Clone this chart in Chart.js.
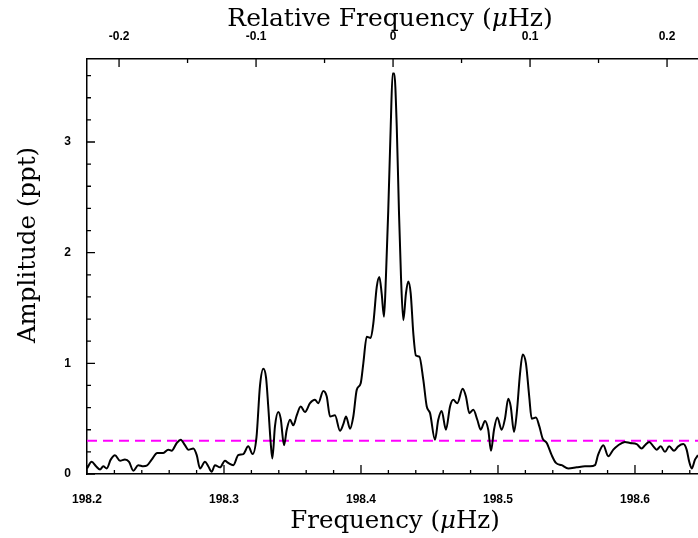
<!DOCTYPE html>
<html>
<head>
<meta charset="utf-8">
<script src="https://cdn.jsdelivr.net/npm/chart.js@4"></script>
<style>
  body { margin: 0; background: #fff; }
  #wrap { width: 698px; height: 538px; }
</style>
</head>
<body>
<div id="wrap"><canvas id="ampSpectrum"></canvas></div>
<script>
// frequency (μHz) and amplitude (ppt) of the spectrum around the peak
var freq = [
  198.2000, 198.2034, 198.2066, 198.2095, 198.2119, 198.2144, 198.2173, 198.2204, 198.2241, 198.2277,
  198.2307, 198.2338, 198.2374, 198.2411, 198.2436, 198.2472, 198.2513, 198.2557, 198.2593, 198.2618,
  198.2655, 198.2684, 198.2715, 198.2739, 198.2776, 198.2801, 198.2825, 198.2861, 198.2885, 198.2910,
  198.2934, 198.2971, 198.3007, 198.3031, 198.3068, 198.3104, 198.3141, 198.3177, 198.3209, 198.3237,
  198.3263, 198.3287, 198.3307, 198.3323, 198.3341, 198.3353, 198.3372, 198.3396, 198.3414, 198.3438,
  198.3458, 198.3482, 198.3506, 198.3531, 198.3560, 198.3591, 198.3628, 198.3664, 198.3688, 198.3725,
  198.3750, 198.3774, 198.3810, 198.3847, 198.3871, 198.3891, 198.3920, 198.3944, 198.3969, 198.3998,
  198.4017, 198.4042, 198.4071, 198.4090, 198.4115, 198.4134, 198.4151, 198.4168, 198.4182, 198.4199,
  198.4217, 198.4231, 198.4243, 198.4261, 198.4277, 198.4292, 198.4309, 198.4328, 198.4345, 198.4363,
  198.4382, 198.4401, 198.4426, 198.4455, 198.4480, 198.4504, 198.4540, 198.4564, 198.4589, 198.4620,
  198.4650, 198.4674, 198.4703, 198.4742, 198.4766, 198.4791, 198.4820, 198.4849, 198.4874, 198.4905,
  198.4929, 198.4949, 198.4971, 198.4995, 198.5027, 198.5051, 198.5075, 198.5093, 198.5117, 198.5137,
  198.5161, 198.5180, 198.5204, 198.5228, 198.5246, 198.5277, 198.5302, 198.5326, 198.5356, 198.5392,
  198.5423, 198.5465, 198.5513, 198.5574, 198.5635, 198.5672, 198.5708, 198.5730, 198.5769, 198.5805,
  198.5842, 198.5878, 198.5927, 198.5964, 198.6012, 198.6049, 198.6073, 198.6104, 198.6134, 198.6158,
  198.6188, 198.6219, 198.6250, 198.6285, 198.6316, 198.6353, 198.6377, 198.6396, 198.6414, 198.6438,
  198.6460
];
var amp = [
  0.05, 0.11, 0.07, 0.04, 0.07, 0.05, 0.13, 0.17, 0.12, 0.13,
  0.11, 0.03, 0.08, 0.07, 0.075, 0.13, 0.19, 0.19, 0.22, 0.21,
  0.28, 0.31, 0.26, 0.22, 0.23, 0.17, 0.05, 0.11, 0.07, 0.02,
  0.08, 0.06, 0.12, 0.10, 0.08, 0.17, 0.18, 0.25, 0.18, 0.33,
  0.80, 0.95, 0.87, 0.61, 0.28, 0.14, 0.43, 0.56, 0.50, 0.26,
  0.40, 0.49, 0.44, 0.53, 0.61, 0.56, 0.64, 0.67, 0.64, 0.75,
  0.70, 0.52, 0.53, 0.39, 0.45, 0.52, 0.41, 0.52, 0.76, 0.82,
  1.00, 1.24, 1.23, 1.36, 1.69, 1.78, 1.63, 1.42, 1.78, 2.38,
  3.14, 3.62, 3.62, 3.14, 2.38, 1.78, 1.39, 1.63, 1.74, 1.63,
  1.27, 1.07, 1.06, 0.85, 0.61, 0.55, 0.31, 0.49, 0.57, 0.40,
  0.61, 0.67, 0.64, 0.77, 0.70, 0.55, 0.58, 0.49, 0.40, 0.48,
  0.40, 0.21, 0.40, 0.51, 0.40, 0.50, 0.68, 0.61, 0.38, 0.55,
  0.91, 1.08, 1.00, 0.70, 0.50, 0.51, 0.43, 0.32, 0.28, 0.17,
  0.10, 0.08, 0.05, 0.06, 0.07, 0.07, 0.08, 0.17, 0.26, 0.16,
  0.22, 0.26, 0.29, 0.28, 0.27, 0.23, 0.26, 0.29, 0.25, 0.22,
  0.25, 0.20, 0.25, 0.21, 0.25, 0.27, 0.22, 0.11, 0.05, 0.13,
  0.17
];
var noiseLevel = 0.3;          // dashed significance line
var centerFreq = 198.4234;     // zero of the relative axis
var freqTicks = [198.2, 198.3, 198.4, 198.5, 198.6];
var relTicks = [-0.2, -0.1, 0, 0.1, 0.2];
var ampTicks = [0, 1, 2, 3];
var xMin = 198.2, xMax = 198.646, yMin = 0, yMax = 3.75;

var tickFont = { family: 'Liberation Sans', size: 12, weight: 'bold' };
var titleFamily = 'DejaVu Serif';

// draws inward ticks (major + minor) and the serif axis titles
var frameTicks = {
  id: 'frameTicks',
  afterDraw: function (chart) {
    var ctx = chart.ctx, a = chart.chartArea;
    var sx = chart.scales.x, sx2 = chart.scales.x2, sy = chart.scales.y;
    ctx.save();
    ctx.strokeStyle = '#000';
    ctx.lineWidth = 1.3;
    ctx.beginPath();
    var i, v, p, len;
    for (i = 0; i <= 23; i++) {
      v = xMin + i * 0.02;
      if (v > xMax) break;
      p = sx.getPixelForValue(v);
      len = (i % 5 === 0) ? 9 : 4;
      ctx.moveTo(p, a.bottom);
      ctx.lineTo(p, a.bottom - len);
    }
    for (i = -4; i <= 4; i++) {
      v = i * 0.05;
      p = sx2.getPixelForValue(v);
      if (p < a.left || p > a.right) continue;
      len = (i % 2 === 0) ? 8 : 4;
      ctx.moveTo(p, a.top);
      ctx.lineTo(p, a.top + len);
    }
    for (i = 0; i <= 18; i++) {
      v = i * 0.2;
      p = sy.getPixelForValue(v);
      len = (i % 5 === 0) ? 8 : 4;
      ctx.moveTo(a.left, p);
      ctx.lineTo(a.left + len, p);
    }
    ctx.stroke();

    ctx.fillStyle = '#000';
    ctx.textBaseline = 'alphabetic';
    function title(parts, size, cx, cy, rot) {
      ctx.save();
      ctx.translate(cx, cy);
      if (rot) ctx.rotate(rot);
      var w = 0;
      parts.forEach(function (pt) {
        ctx.font = (pt[1] ? 'italic ' : '') + size + 'px "' + titleFamily + '"';
        w += ctx.measureText(pt[0]).width;
      });
      var x = -w / 2;
      parts.forEach(function (pt) {
        ctx.font = (pt[1] ? 'italic ' : '') + size + 'px "' + titleFamily + '"';
        ctx.fillText(pt[0], x, size * 0.35);
        x += ctx.measureText(pt[0]).width;
      });
      ctx.restore();
    }
    title([['Relative Frequency (', false], ['μ', true], ['Hz)', false]], 25, 390, 17, 0);
    title([['Frequency (', false], ['μ', true], ['Hz)', false]], 24.5, 395, 519, 0);
    title([['Amplitude (ppt)', false]], 24.5, 26, 245, -Math.PI / 2);
    ctx.restore();
  }
};

document.addEventListener('DOMContentLoaded', function () {
  var ctx = document.getElementById('ampSpectrum').getContext('2d');
  var points = freq.map(function (f, k) { return { x: f, y: amp[k] }; });

  new Chart(ctx, {
    type: 'line',
    data: {
      datasets: [{
        data: points,
        borderColor: '#000',
        borderWidth: 2,
        pointRadius: 0,
        cubicInterpolationMode: 'monotone',
        fill: false
      }, {
        data: [{ x: xMin, y: noiseLevel }, { x: xMax, y: noiseLevel }],
        borderColor: '#ff00ff',
        borderWidth: 2,
        borderDash: [10, 6],
        pointRadius: 0,
        fill: false
      }]
    },
    options: {
      responsive: true,
      maintainAspectRatio: false,
      animation: false,
      layout: { padding: 0 },
      plugins: { legend: { display: false }, tooltip: { enabled: false } },
      scales: {
        x: {
          type: 'linear', position: 'bottom', min: xMin, max: xMax,
          grid: { display: false },
          border: { display: true, color: '#000', width: 1.5 },
          afterBuildTicks: function (s) { s.ticks = freqTicks.map(function (v) { return { value: v }; }); },
          afterFit: function (s) { s.height = 64; },
          ticks: {
            autoSkip: false, maxRotation: 0, padding: 10, color: '#000', font: tickFont,
            callback: function (v) { return v.toFixed(1); }
          }
        },
        x2: {
          type: 'linear', position: 'top', min: xMin - centerFreq, max: xMax - centerFreq,
          grid: { display: false },
          border: { display: true, color: '#000', width: 1.5 },
          afterBuildTicks: function (s) { s.ticks = relTicks.map(function (v) { return { value: v }; }); },
          afterFit: function (s) { s.height = 59; },
          ticks: {
            autoSkip: false, maxRotation: 0, padding: 7, color: '#000', font: tickFont,
            callback: function (v) { return v === 0 ? '0' : v.toFixed(1); }
          }
        },
        y: {
          type: 'linear', min: yMin, max: yMax,
          grid: { display: false },
          border: { display: true, color: '#000', width: 1.5 },
          afterBuildTicks: function (s) { s.ticks = ampTicks.map(function (v) { return { value: v }; }); },
          afterFit: function (s) { s.width = 87; },
          ticks: { padding: 8, color: '#000', font: tickFont }
        }
      }
    },
    plugins: [frameTicks]
  });
});
</script>
</body>
</html>
